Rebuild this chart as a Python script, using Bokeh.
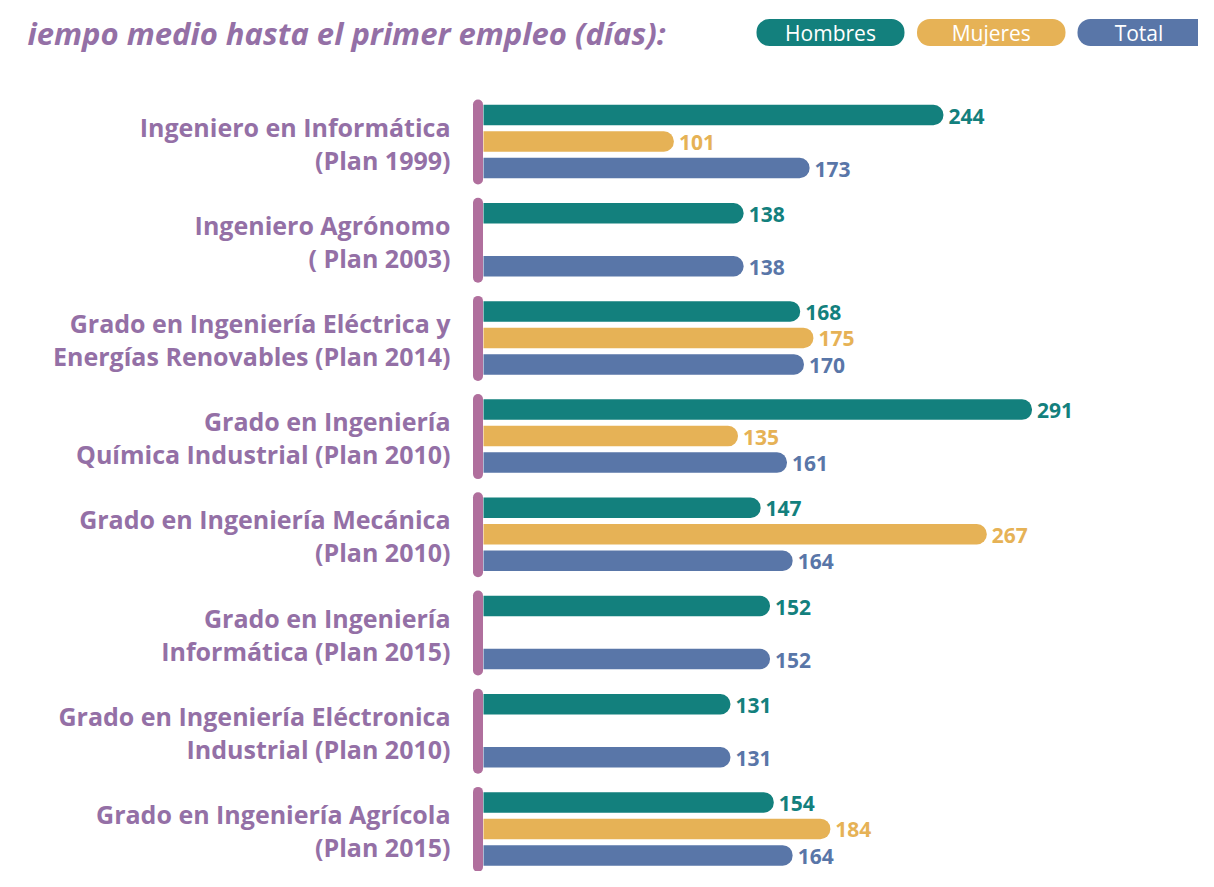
from bokeh.plotting import figure
from bokeh.models import Range1d, ColumnDataSource
from bokeh.core.properties import value
from bokeh.embed import file_html
from bokeh.resources import INLINE

# ---------------- data ----------------
line1 = ["Ingeniero en Informática", "Ingeniero Agrónomo",
         "Grado en Ingeniería Eléctrica y", "Grado en Ingeniería",
         "Grado en Ingeniería Mecánica", "Grado en Ingeniería",
         "Grado en Ingeniería Eléctronica", "Grado en Ingeniería Agrícola"]
line2 = ["(Plan 1999)", "( Plan 2003)",
         "Energías Renovables (Plan 2014)", "Química Industrial (Plan 2010)",
         "(Plan 2010)", "Informática (Plan 2015)",
         "Industrial (Plan 2010)", "(Plan 2015)"]
hombres = [244, 138, 168, 291, 147, 152, 131, 154]
mujeres = [101, None, 175, 135, 267, None, None, 184]
total = [173, 138, 170, 161, 164, 152, 131, 164]
series_names = ["Hombres", "Mujeres", "Total"]
title_text = "iempo medio hasta el primer empleo (días):"

C_H = "#13807d"
C_M = "#e6b256"
C_T = "#5976a8"
C_AX = "#b06f9d"
C_LAB = "#9470a6"

FONT = "Open Sans"

# ---------------- layout helpers ----------------
W, H = 1198, 871
X0 = 483.0          # px of value 0
SC = 1.885          # px per day
def v(px):          # px -> value units
    return (px - X0) / SC

G0, GS = 141.0, 98.2    # group centre (px), group step
BS = 26.5               # bar step inside group

p = figure(width=W, height=H, output_backend="svg", toolbar_location=None,
           x_range=Range1d(v(0), v(W)), y_range=Range1d(H, 0),
           min_border=0, outline_line_color=None)
p.axis.visible = False
p.grid.visible = False
p.background_fill_color = "white"
p.border_fill_color = "white"

gc = [G0 + GS * i for i in range(len(hombres))]

for k, (vals, col) in enumerate([(hombres, C_H), (mujeres, C_M), (total, C_T)]):
    ys, rs = [], []
    for i, val in enumerate(vals):
        if val is None:
            continue
        ys.append(gc[i] + (k - 1) * BS)
        rs.append(val)
    src = ColumnDataSource(dict(y=ys, right=rs, lab=[str(r) for r in rs]))
    p.hbar(y="y", left=0, right="right", height=20.5, source=src,
           fill_color=col, line_color=None, border_radius=(0, 10, 10, 0))
    p.text(x="right", y="y", text="lab", source=src, x_offset=5, y_offset=1,
           text_color=col, text_font=value(FONT), text_font_style="bold",
           text_font_size="21px", text_align="left", text_baseline="middle")

# purple axis per group
p.segment(x0=[v(477.5)] * len(gc), x1=[v(477.5)] * len(gc),
          y0=[g - 37 for g in gc], y1=[g + 38 for g in gc],
          line_color=C_AX, line_width=10, line_cap="round")

# category labels
p.text(x=[v(450)] * len(gc), y=[g - 15 for g in gc], text=line1,
       text_color=C_LAB, text_font=value(FONT), text_font_style="bold",
       text_font_size="25px", text_align="right", text_baseline="middle")
p.text(x=[v(450)] * len(gc), y=[g + 18 for g in gc], text=line2,
       text_color=C_LAB, text_font=value(FONT), text_font_style="bold",
       text_font_size="25px", text_align="right", text_baseline="middle")

# title
p.text(x=[v(665)], y=[32], text=[title_text], text_color=C_LAB,
       text_font=value(FONT), text_font_style="bold italic",
       text_font_size="31px", text_align="right", text_baseline="middle")

# legend pills
pill_l = [756, 916.5, 1077]
pill_r = [904, 1065, 1225]
p.quad(left=[v(a) for a in pill_l], right=[v(b) for b in pill_r],
       top=[18.5] * 3, bottom=[45.5] * 3,
       fill_color=[C_H, C_M, C_T], line_color=None, border_radius=13)
p.text(x=[v((a + b) / 2) for a, b in zip(pill_l, [904, 1065, 1200])],
       y=[32] * 3, text=series_names, text_color="white",
       text_font=value(FONT), text_font_size="21px",
       text_align="center", text_baseline="middle")

open("out.html", "w").write(file_html(p, INLINE))
